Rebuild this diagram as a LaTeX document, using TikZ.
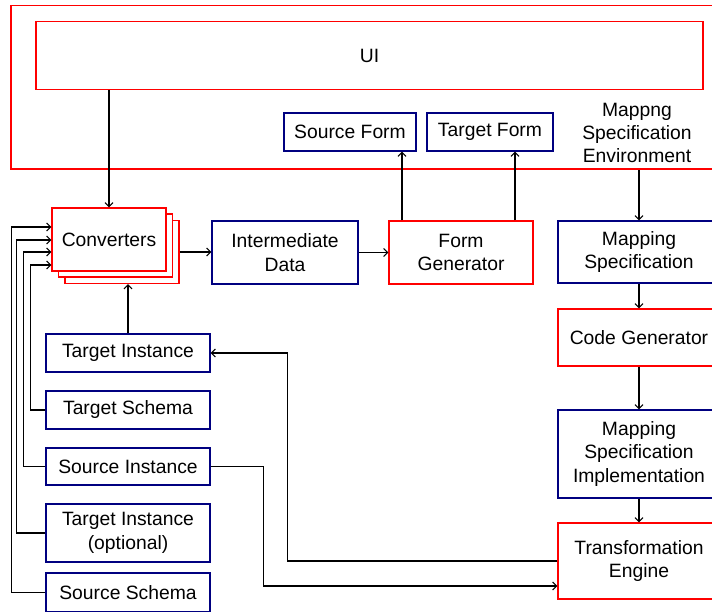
\documentclass[tikz,border=0pt]{standalone}
\usepackage{fontspec}
\setmainfont{Liberation Sans}
\usetikzlibrary{arrows.meta}
\definecolor{boxred}{RGB}{255,0,0}
\definecolor{boxblue}{RGB}{0,0,128}
\begin{document}
\begin{tikzpicture}[x=1pt,y=-1pt,
  font=\fontsize{19.3}{23.3}\selectfont,
  redbox/.style={draw=boxred, line width=1.3pt, fill=white, align=center, inner sep=0pt},
  bluebox/.style={draw=boxblue, line width=1.3pt, fill=white, align=center, inner sep=0pt},
  arr/.style={black, line width=1.1pt, -{Straight Barb[length=4pt,width=8pt]}},
  link/.style={black, line width=1.1pt}]
\useasboundingbox (0,0) rectangle (712,611);

% environment frame and UI
\node[draw=boxred, line width=1.3pt, minimum width=711pt, minimum height=163.5pt, inner sep=0pt] (env) at (366.5,87.25) {};
\node[redbox, minimum width=667pt, minimum height=68pt] (ui) at (369.5,55.5) {UI};
\node[bluebox, minimum width=132pt, minimum height=38pt] (sf) at (350,132) {Source Form};
\node[bluebox, minimum width=126pt, minimum height=38pt] (tf) at (490,132) {Target Form};
\node[align=center] (envlbl) at (637,133) {Mappng\\Specification\\Environment};

% converters stack
\node[redbox, minimum width=114pt, minimum height=63pt] (conv3) at (122,252) {};
\node[redbox, minimum width=114pt, minimum height=63pt] (conv2) at (115.5,245.5) {};
\node[redbox, minimum width=114pt, minimum height=63pt] (conv) at (109,239.5) {Converters};

\node[bluebox, minimum width=146pt, minimum height=63pt] (id) at (285,252.5) {Intermediate\\Data};
\node[redbox, minimum width=144pt, minimum height=63pt] (fg) at (461,252.5) {Form\\Generator};

% right column
\node[bluebox, minimum width=162pt, minimum height=62pt] (ms) at (639,252) {Mapping\\Specification};
\node[redbox, minimum width=162pt, minimum height=57pt] (cg) at (639,337.5) {Code Generator};
\node[bluebox, minimum width=162pt, minimum height=88pt] (msi) at (639,454) {Mapping\\Specification\\Implementation};
\node[redbox, minimum width=162pt, minimum height=76pt] (te) at (639,561) {Transformation\\Engine};

% left column
\node[bluebox, minimum width=164pt, minimum height=38pt] (ti) at (128,353) {Target Instance};
\node[bluebox, minimum width=164pt, minimum height=38pt] (ts) at (128,410) {Target Schema};
\node[bluebox, minimum width=164pt, minimum height=37pt] (si) at (128,466.5) {Source Instance};
\node[bluebox, minimum width=164pt, minimum height=58pt] (tio) at (128,533) {Target Instance\\(optional)};
\node[bluebox, minimum width=164pt, minimum height=39pt] (ss) at (128,592.5) {Source Schema};

% connectors
\draw[arr] (ui.south -| conv.north) -- (conv.north);
\draw[arr] (conv3.east) -- (conv3.east -| id.west);
\draw[arr] (id.east) -- (fg.west);
\draw[arr] ([xshift=-59pt]fg.north) -- ([xshift=-59pt]fg.north |- sf.south);
\draw[arr] ([xshift=54pt]fg.north) -- ([xshift=54pt]fg.north |- tf.south);
\draw[arr, shorten <=3.5pt] (ms.north |- envlbl.south) -- (ms.north);
\draw[arr] (ms.south) -- (cg.north);
\draw[arr] (cg.south) -- (msi.north);
\draw[arr] (msi.south) -- (te.north);
\draw[arr] (ti.north) -- (ti.north |- conv3.south);
\draw[arr] (te.west) -- ++(-270,0) |- (ti.east);
\draw[arr] (si.east) -- ++(53,0) |- ([yshift=-25pt]te.west);

\draw[arr] (ss.west) -| ([xshift=-40pt,yshift=12.5pt]conv.west) -- ([yshift=12.5pt]conv.west);
\draw[arr] (tio.west) -| ([xshift=-35pt,yshift=-0.5pt]conv.west) -- ([yshift=-0.5pt]conv.west);
\draw[arr] (si.west) -| ([xshift=-28pt,yshift=-12.5pt]conv.west) -- ([yshift=-12.5pt]conv.west);
\draw[arr] (ts.west) -| ([xshift=-21pt,yshift=-25.5pt]conv.west) -- ([yshift=-25.5pt]conv.west);
\end{tikzpicture}
\end{document}
